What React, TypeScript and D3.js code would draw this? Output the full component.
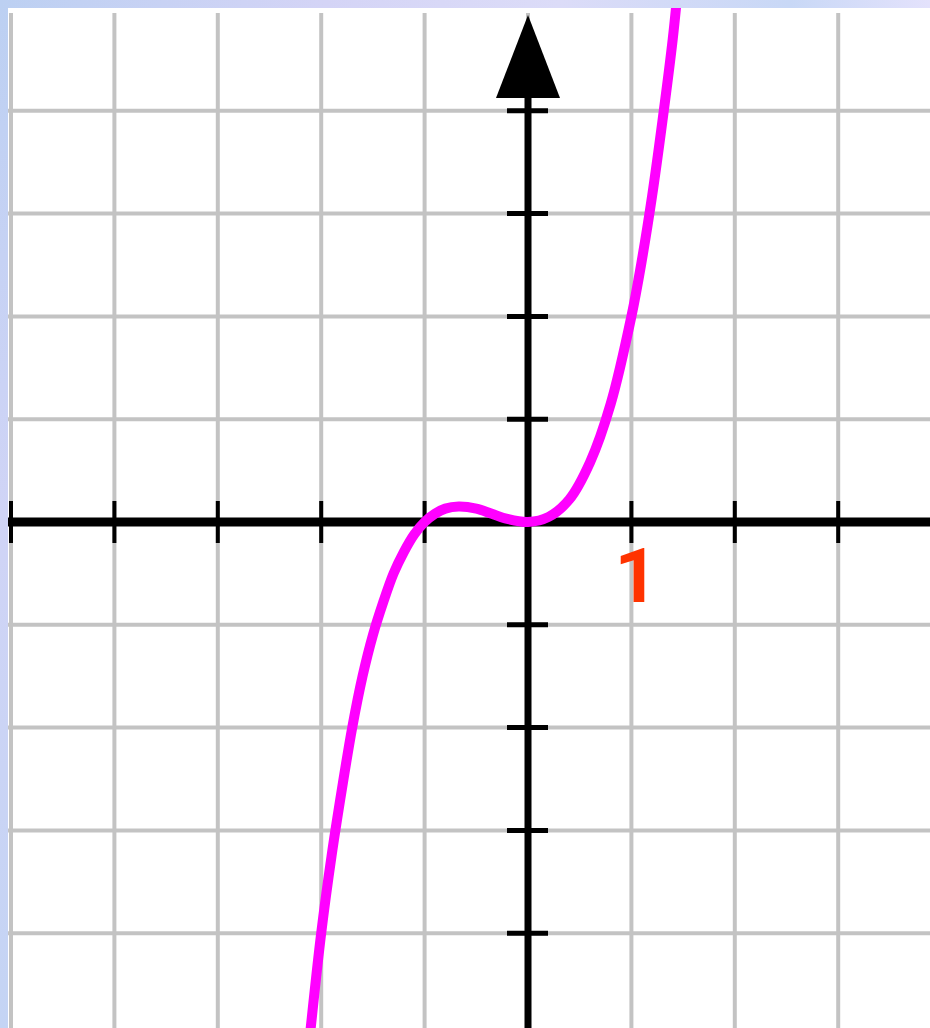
import React from "react";
import * as d3 from "d3";

const W = 930;
const H = 1028;

// grid / tick values (units)
const gridX = [-5, -4, -3, -2, -1, 0, 1, 2, 3];
const gridY = [-4, -3, -2, -1, 0, 1, 2, 3, 4];
const tickX = [-5, -4, -3, -2, -1, 1, 2, 3];
const tickY = [-4, -3, -2, -1, 1, 2, 3, 4];
const xLabels = [{ value: 1, text: "1" }];

// curve points
const curveX = [-2.12, -2.0, -1.9, -1.8, -1.7, -1.6, -1.5, -1.4, -1.3, -1.2, -1.1, -1.0, -0.9, -0.8, -0.67, -0.5, -0.35, -0.2, 0, 0.2, 0.4, 0.6, 0.8, 1.0, 1.1, 1.2, 1.3, 1.4, 1.46];
const curveY = [-5.1, -4.0, -3.25, -2.6, -2.0, -1.5, -1.1, -0.78, -0.5, -0.29, -0.12, 0, 0.08, 0.13, 0.15, 0.13, 0.08, 0.03, 0, 0.05, 0.22, 0.58, 1.15, 2.0, 2.54, 3.17, 3.9, 4.7, 5.3];

export default function App() {
  const x = d3.scaleLinear().domain([0, 1]).range([528, 631.4]);
  const y = d3.scaleLinear().domain([0, 1]).range([522, 419.2]);

  const pts: [number, number][] = curveX.map((v, i) => [v, curveY[i]]);
  const line = d3
    .line<[number, number]>()
    .x((d) => x(d[0]))
    .y((d) => y(d[1]))
    .curve(d3.curveCatmullRom.alpha(0.5));

  const x0 = x(0);
  const y0 = y(0);

  return (
    <svg
      width={W}
      height={H}
      style={{ position: "absolute", left: 0, top: 0, display: "block" }}
    >
      <defs>
        <linearGradient id="topg" x1="0" y1="0" x2="1" y2="0">
          <stop offset="0" stopColor="#bcd0f2" />
          <stop offset="0.35" stopColor="#d4d4f6" />
          <stop offset="0.6" stopColor="#dcdcf8" />
          <stop offset="0.85" stopColor="#c8d8f6" />
          <stop offset="1" stopColor="#e4e2fc" />
        </linearGradient>
        <linearGradient id="leftg" x1="0" y1="0" x2="0" y2="1">
          <stop offset="0" stopColor="#bcd0f2" />
          <stop offset="0.5" stopColor="#d0d4f6" />
          <stop offset="1" stopColor="#c4d4f4" />
        </linearGradient>
        <clipPath id="plot">
          <rect x={8} y={8} width={W - 8} height={H - 8} />
        </clipPath>
      </defs>
      <rect x={0} y={0} width={W} height={H} fill="url(#leftg)" />
      <rect x={0} y={0} width={W} height={8} fill="url(#topg)" />
      <rect x={8} y={8} width={W - 8} height={H - 8} fill="#ffffff" />

      <g clipPath="url(#plot)">
        {gridX.map((v) => (
          <line key={"gx" + v} x1={x(v)} x2={x(v)} y1={13} y2={H} stroke="#c3c3c3" strokeWidth={4} />
        ))}
        {gridY.map((v) => (
          <line key={"gy" + v} x1={8} x2={W} y1={y(v)} y2={y(v)} stroke="#c3c3c3" strokeWidth={4} />
        ))}

        {/* x axis */}
        <line x1={8} x2={W} y1={y0} y2={y0} stroke="#000" strokeWidth={9} />
        {tickX.map((v) => (
          <line key={"tx" + v} x1={x(v)} x2={x(v)} y1={y0 - 21} y2={y0 + 21} stroke="#000" strokeWidth={4} />
        ))}

        {/* y axis */}
        <line x1={x0} x2={x0} y1={90} y2={H} stroke="#000" strokeWidth={7} />
        {tickY.map((v) => (
          <line key={"ty" + v} x1={x0 - 21} x2={x0 + 20} y1={y(v)} y2={y(v)} stroke="#000" strokeWidth={5} />
        ))}
        <polygon
          points={`${x0},15 ${x0 - 32},98 ${x0 + 32},98`}
          fill="#000"
        />

        <path d={line(pts) || ""} fill="none" stroke="#ff00ff" strokeWidth={10} />

        {xLabels.map((l) => (
          <text
            key={l.text}
            x={x(l.value) + 5}
            y={602}
            textAnchor="middle"
            fontFamily="Roboto, sans-serif"
            fontWeight="bold"
            fontSize={76}
            fill="#ff3300"
          >
            {l.text}
          </text>
        ))}
      </g>
    </svg>
  );
}
